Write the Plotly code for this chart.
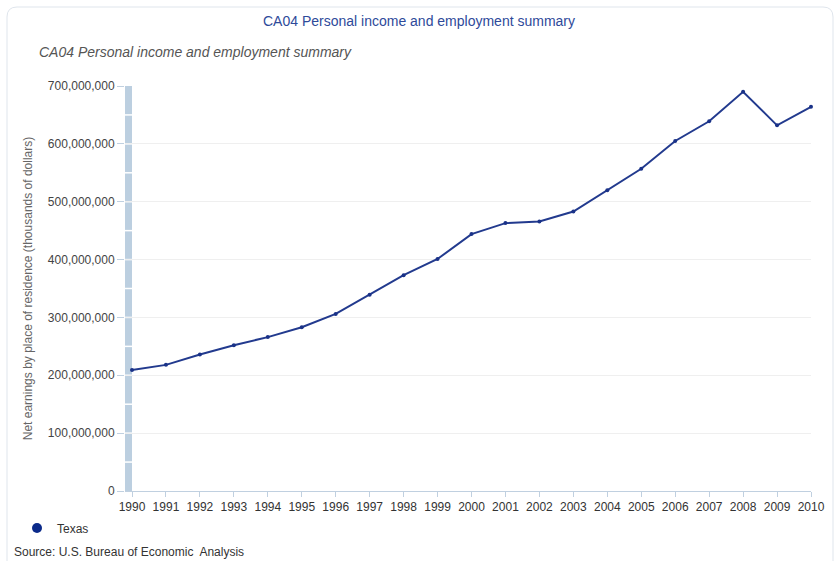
import plotly.graph_objects as go

years = list(range(1990, 2011))
texas = [209e6, 218e6, 236e6, 252e6, 266e6, 283e6, 306e6, 339e6, 373e6, 401e6,
         444e6, 463e6, 466e6, 483e6, 520e6, 557e6, 605e6, 639e6, 690e6, 632e6, 664e6]
y_ticks = [0, 100e6, 200e6, 300e6, 400e6, 500e6, 600e6, 700e6]
y_tick_text = ["0", "100,000,000", "200,000,000", "300,000,000", "400,000,000",
               "500,000,000", "600,000,000", "700,000,000"]

W, H = 838, 561
L, R, T, B = 125, 27, 86, 70
x0 = 1990 - 7 / 33.95

fig = go.Figure()
fig.add_trace(go.Scatter(
    x=years, y=texas, mode="lines+markers", name="Texas", showlegend=False,
    line=dict(color="#223a8e", width=2), marker=dict(size=4, color="#1a3288"),
    cliponaxis=False))
fig.add_trace(go.Scatter(
    x=[None], y=[None], mode="markers", name="Texas",
    marker=dict(size=10, color="#0b2a8a")))

shapes = []
# light blue band along the left edge
shapes.append(dict(type="rect", xref="x", yref="y", x0=x0, x1=1990, y0=0, y1=700e6,
                   fillcolor="#bccfe0", line=dict(width=0), layer="below"))
for v in range(50, 700, 50):
    shapes.append(dict(type="line", xref="x", yref="y", x0=x0, x1=1990,
                       y0=v * 1e6, y1=v * 1e6, line=dict(color="white", width=1.5),
                       layer="below"))


def px(x):
    return (x - L) / (W - L - R)


def py(y):
    return 1 - (y - T) / (H - T - B)


# outer rounded border
r = 10
bx0, by0, bx1, by1 = 7, 7, 833, 600
path = (f"M {px(bx0)},{py(by1)} L {px(bx0)},{py(by0 + r)} Q {px(bx0)},{py(by0)} {px(bx0 + r)},{py(by0)} "
        f"L {px(bx1 - r)},{py(by0)} Q {px(bx1)},{py(by0)} {px(bx1)},{py(by0 + r)} L {px(bx1)},{py(by1)}")
shapes.append(dict(type="path", xref="paper", yref="paper", path=path,
                   line=dict(color="#dfe5ec", width=1)))

fig.update_layout(
    width=W, height=H,
    margin=dict(l=L, r=R, t=T, b=B, autoexpand=False),
    paper_bgcolor="white", plot_bgcolor="white",
    font=dict(family="Liberation Sans, Arial, sans-serif", size=12, color="#333333"),
    title=dict(text="CA04 Personal income and employment summary",
               x=0.5, xref="container", xanchor="center",
               y=1 - 21 / H, yref="container", yanchor="middle",
               font=dict(size=14, color="#2e4a9a")),
    xaxis=dict(range=[x0, 2010], tickmode="array", tickvals=years,
               ticktext=[str(y) for y in years], showgrid=False, zeroline=False,
               showline=True, linecolor="#c0d0e0", linewidth=1,
               ticks="outside", ticklen=5, tickcolor="#c0d0e0",
               tickfont=dict(size=12, color="#333333"), fixedrange=True),
    yaxis=dict(range=[0, 700e6], tickmode="array", tickvals=y_ticks,
               ticktext=y_tick_text, showgrid=True, gridcolor="#efefef",
               gridwidth=1, zeroline=False, showline=False,
               ticks="outside", ticklen=7, tickcolor="#c0d0e0",
               tickfont=dict(size=12, color="#444444"),
               title=dict(text="Net earnings by place of residence (thousands of dollars)",
                          font=dict(size=12, color="#666666"), standoff=12)),
    legend=dict(orientation="h", xref="container", yref="container",
                x=17 / W, y=1 - 528 / H, xanchor="left", yanchor="middle",
                font=dict(size=12, color="#333333"), bgcolor="rgba(0,0,0,0)",
                itemwidth=30),
    shapes=shapes,
    annotations=[
        dict(text="<i>CA04 Personal income and employment summary</i>",
             xref="paper", yref="paper", x=px(37), y=py(52), xanchor="left",
             yanchor="middle", showarrow=False,
             font=dict(size=14, color="#555555")),
        dict(text="Source: U.S. Bureau of Economic  Analysis",
             xref="paper", yref="paper", x=px(12), y=py(552), xanchor="left",
             yanchor="middle", showarrow=False,
             font=dict(size=12, color="#333333")),
    ],
)

fig.write_html("out.html")
